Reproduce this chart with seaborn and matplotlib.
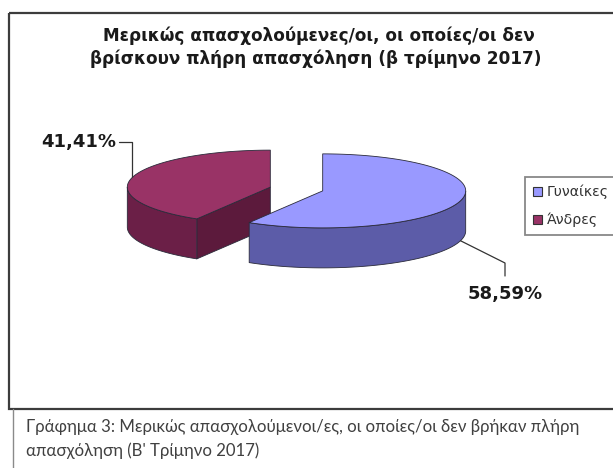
import numpy as np
import matplotlib
matplotlib.use("Agg")
import matplotlib.pyplot as plt
from matplotlib.patches import Polygon, Rectangle, Patch
from matplotlib.lines import Line2D
import seaborn as sns

# ---- data ----
categories = ["Γυναίκες", "Άνδρες"]
shares = [58.59, 41.41]
value_labels = ["58,59%", "41,41%"]
title_lines = ["Μερικώς απασχολούμενες/οι, οι οποίες/οι δεν",
               "βρίσκουν πλήρη απασχόληση (β τρίμηνο 2017)"]
caption_lines = ["Γράφημα 3: Μερικώς απασχολούμενοι/ες, οι οποίες/οι δεν βρήκαν πλήρη",
                 "απασχόληση (Β' Τρίμηνο 2017)"]

# ---- styling ----
top_colors = ["#9999FF", "#993366"]
side_colors = ["#5C5CA8", "#6B1F47"]
cut_colors = ["#4A4A8E", "#5C1A3C"]

sns.set_theme(style="white")
plt.rcParams["font.family"] = ["DejaVu Sans"]

W, H = 613, 468
fig = plt.figure(figsize=(W / 100, H / 100), dpi=100)
fig.patch.set_facecolor("white")
ax = fig.add_axes([0, 0, 1, 1])
ax.set_xlim(0, W)
ax.set_ylim(H, 0)
ax.axis("off")

# chart frame and caption box
ax.add_patch(Rectangle((9, 13), 640, 396, fill=False, edgecolor="#3c3c3c",
                       lw=1.6, zorder=1))
ax.add_line(Line2D([13, 13], [409, 470], color="#8a8a8a", lw=1.0))

# title
ax.text(319, 36, title_lines[0], ha="center", va="center", fontsize=12.2,
        fontweight="bold", color="#1a1a1a")
ax.text(316, 59, title_lines[1], ha="center", va="center", fontsize=12.2,
        fontweight="bold", color="#1a1a1a")

# ---- 3D exploded pie ----
center = np.array([296.5, 189.0])
rx, ry, depth = 143.0, 37.0, 40.0
explode = 0.19
edge_kw = dict(edgecolor="#2a2a3a", lw=0.6, joinstyle="round")


def ell(cx, cy, t):
    t = np.radians(t)
    return np.column_stack([cx + rx * np.cos(t), cy - ry * np.sin(t)])


fracs = np.array(shares) / np.sum(shares)
bounds = 90 - 360 * np.concatenate([[0], np.cumsum(fracs)])
slices = []
for i in range(len(shares)):
    t0, t1 = bounds[i], bounds[i + 1]
    mid = (t0 + t1) / 2
    cx = center[0] + explode * rx * np.cos(np.radians(mid))
    cy = center[1] - explode * ry * np.sin(np.radians(mid))
    slices.append((i, t0, t1, mid, cx, cy))

anchors = {}
for i, t0, t1, mid, cx, cy in sorted(slices, key=lambda s: s[5]):
    # radial cut faces facing the viewer
    for te, normal in ((t0, t0 + 90), (t1, t1 - 90)):
        if np.sin(np.radians(normal)) < -1e-6:
            p = ell(cx, cy, [te])[0]
            quad = [(cx, cy), tuple(p), (p[0], p[1] + depth), (cx, cy + depth)]
            ax.add_patch(Polygon(quad, closed=True, facecolor=cut_colors[i],
                                 zorder=2, **edge_kw))
    # outer curved side (front half only)
    ts = np.linspace(t0, t1, 400)
    vis = np.sin(np.radians(ts)) <= 0
    idx = np.flatnonzero(vis)
    if idx.size:
        runs = np.split(idx, np.flatnonzero(np.diff(idx) > 1) + 1)
        for r in runs:
            top = ell(cx, cy, ts[r])
            bot = top + np.array([0, depth])
            poly = np.vstack([top, bot[::-1]])
            ax.add_patch(Polygon(poly, closed=True, facecolor=side_colors[i],
                                 zorder=2, **edge_kw))
    # top face
    arc = ell(cx, cy, ts)
    poly = np.vstack([[cx, cy], arc])
    ax.add_patch(Polygon(poly, closed=True, facecolor=top_colors[i],
                         zorder=3, **edge_kw))
    a_top = ell(cx, cy, [mid])[0]
    if np.sin(np.radians(mid)) < 0:
        anchors[i] = (a_top[0], a_top[1] + depth)
    else:
        anchors[i] = (a_top[0], a_top[1])

# value labels with elbow leaders
lab_kw = dict(fontsize=13, fontweight="bold", color="#1a1a1a", zorder=5)
ax_, ay_ = anchors[0]
ax.plot([ax_, 505, 505], [ay_, 263, 276], color="#333333", lw=0.9, zorder=4)
ax.text(505, 294, value_labels[0], ha="center", va="center", **lab_kw)
bx_, by_ = anchors[1]
ax.plot([bx_, bx_, 119], [by_, 142, 142], color="#333333", lw=0.9, zorder=4)
ax.text(116, 142, value_labels[1], ha="right", va="center", **lab_kw)

# legend (runs past the right edge of the canvas)
handles = [Patch(facecolor=top_colors[i], edgecolor="#333333", lw=0.8)
           for i in range(len(categories))]
leg = ax.legend(handles, categories, loc="upper left",
                bbox_to_anchor=(525 / W, 1 - 177 / H), bbox_transform=fig.transFigure,
                frameon=True, fancybox=False, edgecolor="#6a6a6a",
                fontsize=10.2, handlelength=0.65, handleheight=0.65,
                handletextpad=0.35, labelspacing=0.95, borderpad=0.55,
                borderaxespad=0)
leg.get_frame().set_linewidth(1.3)
for t in leg.get_texts():
    t.set_color("#333333")

# caption
cap_kw = dict(fontsize=12.1, color="#404040", family=["Lato", "DejaVu Sans"],
              ha="left", va="center")
ax.text(26, 427, caption_lines[0], **cap_kw)
ax.text(26, 451, caption_lines[1], **cap_kw)

fig.savefig("out.png", dpi=100, facecolor="white")
